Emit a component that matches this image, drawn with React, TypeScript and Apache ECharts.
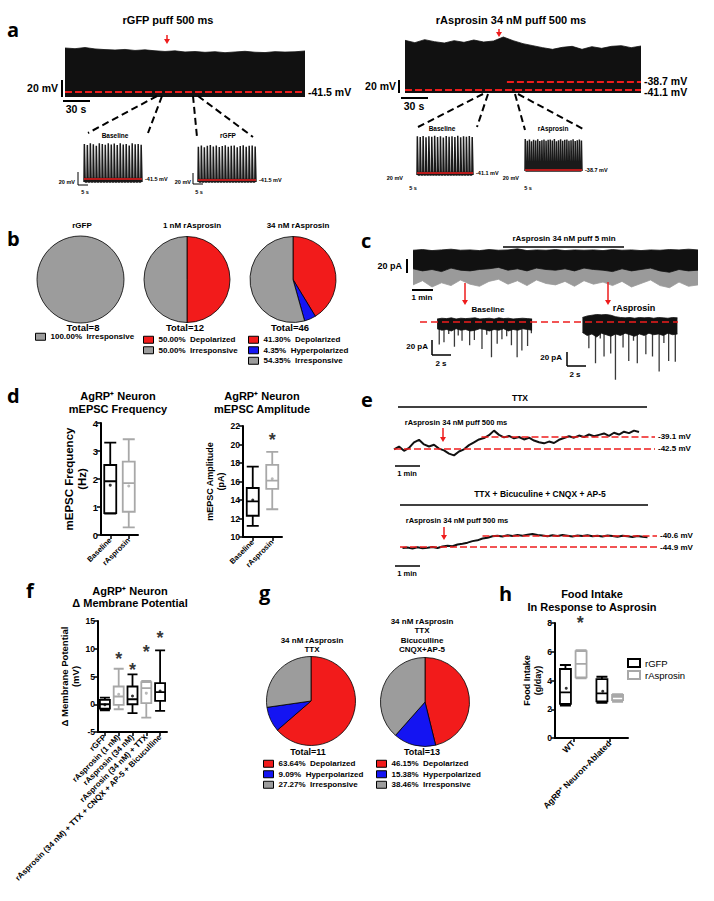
import React, { useEffect, useRef } from "react";
import * as echarts from "echarts";

const FONT = '"Liberation Sans", Arial, Helvetica, sans-serif';
const LETTER_FONT = '"Open Sans", "Liberation Sans", sans-serif';
const RED = "#ee1c1c";
const BOXGRAY = "#a8a8a8";
const PIE_COLORS: Record<string, string> = {
  Depolarized: "#f21b1b",
  Hyperpolarized: "#1414f2",
  Irresponsive: "#9c9c9c",
};

// ---------- panel a : current-clamp traces (upper envelope, mV) ----------
const A_STEP_S = 11;
const aRgfpTop = [10.3, 9.5, 10.8, 9.2, 8.4, 7.9, 8.6, 7.4, 8.1, 7.0, 6.2, 6.9, 5.6, 6.1, 5.2, 5.9, 4.8, 5.6, 6.4, 5.3, 4.9, 6.0, 5.5, 5.8, 6.8];
const aAspTop = [-26.2, -26.9, -26.0, -26.6, -27.0, -26.3, -26.8, -26.1, -26.7, -26.4, -25.2, -26.3, -27.2, -27.8, -28.4, -28.9, -28.3, -28.0, -28.9, -28.1, -28.6, -28.0, -27.8, -28.4, -27.9];
// inset spike peaks (mV)
const aInsetBaseL = [17, 15, 18, 16.5, 14, 18, 17, 15.5, 18, 16, 17.5, 15, 18, 16, 17, 14.5, 18, 16.5, 17, 15.5];
const aInsetRgfp = [14, 16, 13, 15.5, 17, 14.5, 16, 13.5, 15, 16.5, 14, 15.5, 16, 13, 15, 16.5, 14, 15.5, 16, 14.5];
const aInsetBaseR = [20, 19, 20.5, 18.5, 20, 19.5, 21, 19, 20, 18, 20.5, 19.5, 20, 19, 21, 18.5, 20, 19.5, 20.5, 19];
const aInsetAsp = [13, 10, 12, 9, 11.5, 10.5, 12.5, 9.5, 11, 12, 10, 11.5, 12, 10.5, 13, 9, 11, 12.5, 10, 11.5, 12, 10, 11, 12.5, 9.5, 11, 12, 10.5];

// ---------- panel b : pie counts ----------
const bRgfp = [{ name: "Irresponsive", value: 8 }];
const b1nM = [
  { name: "Depolarized", value: 6 },
  { name: "Irresponsive", value: 6 },
];
const b34nM = [
  { name: "Depolarized", value: 19 },
  { name: "Hyperpolarized", value: 2 },
  { name: "Irresponsive", value: 25 },
];

// ---------- panel c : voltage-clamp traces (pA) ----------
const C_STEP_MIN = 0.45;
const cMainSpikes = [-47, -41, -50, -44, -48, -40, -46, -49, -42, -39, -46, -41, -48, -40, -45, -47, -42, -49, -41, -46, -43, -48, -42, -50, -45, -40, -48, -51, -43, -49, -47];
const cMainBand = [-24, -27, -25, -28, -23, -26, -27, -25, -24, -22, -26, -24, -27, -23, -25, -26, -24, -27, -23, -25, -26, -28, -24, -27, -25, -23, -27, -29, -25, -27, -26];
const cMainTop = [2.5, 3.5, 2, 3, 4, 2.5, 3, 2, 3.5, 2.5, 3, 4.5, 2, 3, 2.5, 3.5, 2, 3, 2.5, 3, 2, 3.5, 2.5, 3, 2, 3, 2.5, 3.5, 3, 4, 3];
const C_BAND_STEP_S = 0.5;
const cBaseStart = 1.8;
const cBaseBandTop = [4, 5, 4.5, 5.5, 4, 5, 4.5, 5, 5.5, 4, 4.5, 5, 4, 5.5, 4.5, 5, 4, 4.5, 5, 4.5, 4];
const cBaseBandBottom = [-9, -11, -10, -12, -9, -11, -10, -12, -11, -9, -10, -12, -10, -11, -9, -12, -10, -11, -9, -10, -11];
const cBaseTimes = [2.1, 2.6, 3.1, 3.7, 4.1, 4.5, 5.3, 5.8, 6.6, 7.1, 7.6, 8.2, 8.7, 9.2, 9.7, 10.3, 10.8, 11.4, 11.8];
const cBaseDepths = [-30, -27, -16, -33, -18, -25, -31, -24, -36, -17, -47, -29, -23, -19, -31, -47, -38, -32, -15];
const cAspStart = 17.1;
const cAspBandTop = [6, 8, 9, 10, 9.5, 10, 9, 7, 6, 5.5, 6, 5, 6, 5.5, 6, 5, 6, 5.5, 5, 6, 5.5];
const cAspBandBottom = [-14, -18, -16, -20, -15, -17, -19, -16, -18, -15, -17, -19, -16, -18, -15, -17, -16, -18, -15, -17, -16];
const cAspTimes = [17.7, 18.4, 18.9, 19.3, 20.0, 20.5, 21.3, 21.9, 22.4, 22.8, 23.7, 24.4, 25.1, 25.6, 26.1, 26.8];
const cAspDepths = [-35, -55, -22, -46, -42, -77, -34, -52, -25, -55, -43, -46, -66, -28, -52, -53];

// ---------- panel d : mEPSC box plots [min, Q1, median, Q3, max] ----------
const dCats = ["Baseline", "rAsprosin"];
const dFreqBox = [
  [0.76, 0.78, 1.92, 2.5, 3.3],
  [0.27, 0.83, 1.85, 2.62, 3.42],
];
const dFreqMean = [1.78, 1.75];
const dAmpBox = [
  [11.2, 12.3, 13.85, 15.3, 17.6],
  [13.0, 15.2, 16.1, 17.8, 19.2],
];
const dAmpMean = [14.0, 16.3];
const dAmpStar = [null, 20.5];

// ---------- panel e : TTX traces (mV), sampled every 0.2 min ----------
const E_STEP_MIN = 0.2;
const eTtx = [-42.6, -41.8, -43.0, -42.2, -40.6, -39.9, -41.2, -41.8, -41.3, -42.4, -42.9, -43.8, -44.3, -43.2, -42.6, -41.4, -40.6, -39.8, -39.4, -38.6, -37.3, -38.5, -39.2, -38.8, -39.5, -39.1, -39.8, -39.3, -40.1, -40.6, -40.9, -40.4, -40.8, -39.9, -39.4, -38.9, -39.3, -38.7, -39.1, -38.4, -38.9, -38.5, -38.1, -38.8, -37.9, -38.4, -37.6, -38.0, -37.3, -37.7];
const eAll = [-45.3, -45.1, -45.5, -45.0, -45.4, -45.2, -44.9, -45.3, -44.7, -44.4, -44.6, -43.9, -43.6, -43.2, -42.6, -42.3, -41.6, -41.3, -40.7, -40.5, -40.8, -40.3, -40.6, -40.2, -40.5, -40.1, -39.8, -40.2, -40.4, -40.7, -40.3, -40.6, -40.2, -40.5, -40.8, -40.4, -40.6, -40.3, -40.7, -40.5, -40.8, -40.4, -40.6, -40.9, -40.5, -40.7, -41.0, -40.6, -40.9, -41.1];

// ---------- panel f : delta membrane potential ----------
const fCats = ["rGFP", "rAsprosin (1 nM)", "rAsprosin (34 nM)", "rAsprosin (34 nM) + TTX", "rAsprosin (34 nM) + TTX + CNQX + AP-5 + Bicuculline"];
const fBox = [
  [-1.1, -0.8, 0.0, 0.8, 1.2],
  [-0.9, -0.1, 1.4, 3.2, 6.4],
  [-1.6, 0.0, 0.9, 3.2, 5.4],
  [-2.4, 0.2, 2.9, 4.0, 4.2],
  [-1.2, 0.6, 2.2, 3.8, 9.7],
];
const fMean = [-0.1, 1.8, 1.5, 2.0, 2.4];
const fStar = [null, 8.1, 6.2, 9.4, 11.9];
const fGray = [false, true, false, true, false];

// ---------- panel g : pie counts ----------
const gTtx = [
  { name: "Depolarized", value: 7 },
  { name: "Hyperpolarized", value: 1 },
  { name: "Irresponsive", value: 3 },
];
const gAll = [
  { name: "Depolarized", value: 6 },
  { name: "Hyperpolarized", value: 2 },
  { name: "Irresponsive", value: 5 },
];

// ---------- panel h : food intake ----------
const hCats = ["WT", "AgRP\u207A Neuron-Ablated"];
const hGfpBox = [
  [2.25, 2.37, 3.18, 4.8, 5.08],
  [2.45, 2.55, 3.1, 4.1, 4.26],
];
const hAspBox = [
  [4.15, 4.22, 5.15, 6.05, 6.12],
  [2.52, 2.64, 2.87, 3.0, 3.05],
];
const hGfpMean = [3.46, 3.25];
const hStar = [8.0, null];

// ======================================================================
const txt = (x: number, y: number, text: string, size: number, o: any = {}) => ({
  type: "text",
  x,
  y,
  silent: true,
  z: 50,
  style: {
    text,
    fill: o.fill || "#000",
    fontSize: size,
    fontWeight: o.weight || "bold",
    fontFamily: o.family || FONT,
    align: o.align || "center",
    textAlign: o.align || "center",
    verticalAlign: "middle",
    textVerticalAlign: "middle",
  },
});
const ln = (x1: number, y1: number, x2: number, y2: number, w = 2, color = "#000", dash?: number[]) => ({
  type: "line",
  silent: true,
  z: 50,
  shape: { x1, y1, x2, y2 },
  style: { stroke: color, lineWidth: w, lineDash: dash },
});
const arrow = (x: number, y1: number, y2: number) => [
  ln(x, y1, x, y2 - 4, 1.5, RED),
  {
    type: "polygon",
    silent: true,
    z: 50,
    shape: { points: [[x - 3, y2 - 5], [x + 3, y2 - 5], [x, y2]] },
    style: { fill: RED },
  },
];

function buildOption() {
  const grid: any[] = [];
  const xAxis: any[] = [];
  const yAxis: any[] = [];
  const series: any[] = [];
  const legend: any[] = [];

  const hiddenGrid = (left: number, top: number, width: number, height: number, xr: number[], yr: number[]) => {
    const gi = grid.length;
    grid.push({ left, top, width, height, containLabel: false });
    xAxis.push({ type: "value", gridIndex: gi, min: xr[0], max: xr[1], show: false });
    yAxis.push({ type: "value", gridIndex: gi, min: yr[0], max: yr[1], show: false });
    return gi;
  };

  const redDash = (
    lines: { y: number; x0: number; x1: number; label: string; dy?: number }[],
    size: number,
    width = 2,
    dash: any = [7, 3]
  ) => ({
    silent: true,
    symbol: ["none", "none"],
    lineStyle: { color: RED, type: dash, width },
    label: { show: true, position: "end", formatter: "{b}", color: "#000", fontSize: size, fontWeight: "bold", fontFamily: FONT, distance: 3 },
    emphasis: { disabled: true },
    data: lines.map((l) => [
      { coord: [l.x0, l.y], name: l.label, label: { offset: [0, l.dy || 0] } },
      { coord: [l.x1, l.y] },
    ]),
  });

  const areaTrace = (gi: number, vals: number[], step: number, color: string, origin: any, x0 = 0, extra: any = {}) => ({
    type: "line",
    xAxisIndex: gi,
    yAxisIndex: gi,
    data: vals.map((v, i) => [x0 + i * step, v]),
    symbol: "none",
    clip: false,
    silent: true,
    lineStyle: { color, width: 0.8 },
    areaStyle: { color, opacity: 1, origin },
    ...extra,
  });

  // ---- panel a main traces
  const gA1 = hiddenGrid(65, 40, 240, 57, [0, (aRgfpTop.length - 1) * A_STEP_S], [-47.4, 19.7]);
  series.push(
    areaTrace(gA1, aRgfpTop, A_STEP_S, "#111", "start", 0, {
      markLine: redDash([{ y: -41.5, x0: 0, x1: (aRgfpTop.length - 1) * A_STEP_S, label: "-41.5 mV" }], 10.5),
    })
  );
  const aMax = (aAspTop.length - 1) * A_STEP_S;
  const gA2 = hiddenGrid(405, 35, 236, 58, [0, aMax], [-42.0, -24.6]);
  series.push(
    areaTrace(gA2, aAspTop, A_STEP_S, "#111", "start", 0, {
      markLine: redDash(
        [
          { y: -38.7, x0: 114, x1: aMax, label: "-38.7 mV", dy: -1.5 },
          { y: -41.1, x0: 0, x1: aMax, label: "-41.1 mV", dy: 2 },
        ],
        10.5
      ),
    })
  );
  // ---- panel a insets : spike trains drawn from the peak lists
  const inset = (left: number, top: number, width: number, height: number, peaks: number[], yr: number[], base: number, label: string) => {
    const xmax = peaks.length - 1 + 0.4;
    const gi = hiddenGrid(left, top, width, height, [0, xmax], yr);
    const trough = yr[0];
    const pts: number[][] = [];
    peaks.forEach((p, i) => {
      pts.push([i, trough], [i + 0.12, p], [i + 0.4, trough]);
    });
    series.push({
      type: "line",
      xAxisIndex: gi,
      yAxisIndex: gi,
      data: [[0, base + 2], [xmax, base + 2]],
      symbol: "none",
      silent: true,
      lineStyle: { width: 0 },
      areaStyle: { color: "#111", opacity: 1, origin: "start" },
    });
    series.push({
      type: "line",
      xAxisIndex: gi,
      yAxisIndex: gi,
      data: pts,
      symbol: "none",
      silent: true,
      clip: false,
      lineStyle: { color: "#1a1a1a", width: 1.5 },
      markLine: redDash([{ y: base, x0: 0, x1: xmax, label }], 5.5, 1.5, "solid"),
    });
  };
  inset(84, 142, 58, 40, aInsetBaseL, [-46.5, 20.2], -41.5, "-41.5 mV");
  inset(198, 144, 58, 38, aInsetRgfp, [-44.8, 18.5], -41.5, "-41.5 mV");
  inset(417, 136, 56, 39, aInsetBaseR, [-44.4, 20.6], -41.1, "-41.1 mV");
  inset(525, 137, 57, 34, aInsetAsp, [-40.4, 16.3], -38.7, "-38.7 mV");

  // ---- panel c main
  const cMax = (cMainTop.length - 1) * C_STEP_MIN;
  const gC1 = hiddenGrid(413, 248, 285, 42, [0, cMax], [-54.3, 5.7]);
  series.push(areaTrace(gC1, cMainSpikes, C_STEP_MIN, "#9a9a9a", 0));
  series.push(areaTrace(gC1, cMainBand, C_STEP_MIN, "#111", 0));
  series.push(areaTrace(gC1, cMainTop, C_STEP_MIN, "#111", 0));
  // ---- panel c insets (one shared coordinate system)
  const gC2 = hiddenGrid(420, 312, 258, 70, [0, 27.16], [-80, 13.3]);
  const spikeBars = (times: number[], depths: number[]) => ({
    type: "bar",
    xAxisIndex: gC2,
    yAxisIndex: gC2,
    barWidth: 1.3,
    silent: true,
    itemStyle: { color: "#3a3a3a" },
    data: times.map((t, i) => [t, depths[i]]),
  });
  series.push(spikeBars(cBaseTimes, cBaseDepths));
  series.push(spikeBars(cAspTimes, cAspDepths));
  series.push(areaTrace(gC2, cBaseBandBottom, C_BAND_STEP_S, "#111", 0, cBaseStart));
  series.push(areaTrace(gC2, cBaseBandTop, C_BAND_STEP_S, "#111", 0, cBaseStart));
  series.push(areaTrace(gC2, cAspBandBottom, C_BAND_STEP_S, "#111", 0, cAspStart));
  series.push(
    areaTrace(gC2, cAspBandTop, C_BAND_STEP_S, "#111", 0, cAspStart, {
      markLine: { ...redDash([{ y: 0, x0: 0, x1: 27.16, label: "" }], 6, 1.5, [7, 4]), label: { show: false } },
    })
  );

  // ---- panel e
  const eTtxMax = 10.44;
  const gE1 = hiddenGrid(394, 424, 268, 34, [0, 10.72], [-45.05, -35.42]);
  series.push({
    type: "line",
    xAxisIndex: gE1,
    yAxisIndex: gE1,
    data: eTtx.map((v, i) => [i * E_STEP_MIN, v]),
    symbol: "none",
    clip: false,
    silent: true,
    lineStyle: { color: "#111", width: 2 },
    markLine: redDash(
      [
        { y: -39.1, x0: 3.5, x1: eTtxMax, label: "-39.1 mV" },
        { y: -42.5, x0: 0, x1: eTtxMax, label: "-42.5 mV" },
      ],
      8,
      1.5
    ),
  });
  const gE2 = hiddenGrid(400, 530, 262, 22, [0, 10.48], [-46.85, -38.26]);
  series.push({
    type: "line",
    xAxisIndex: gE2,
    yAxisIndex: gE2,
    data: eAll.map((v, i) => [0.1 + i * E_STEP_MIN, v]),
    symbol: "none",
    clip: false,
    silent: true,
    lineStyle: { color: "#111", width: 2 },
    markLine: redDash(
      [
        { y: -40.6, x0: 3.3, x1: 10.28, label: "-40.6 mV" },
        { y: -44.9, x0: 0, x1: 10.28, label: "-44.9 mV" },
      ],
      8,
      1.5
    ),
  });

  // ---- box plot axes helper
  const boxGrid = (
    left: number, top: number, width: number, height: number, cats: string[],
    yr: number[], interval: number, name: string, nameGap: number, nameSize: number, labelSize: number, xLabelSize: number
  ) => {
    const gi = grid.length;
    grid.push({ left, top, width, height, containLabel: false });
    xAxis.push({
      type: "category",
      gridIndex: gi,
      data: cats,
      boundaryGap: true,
      axisLine: { show: true, onZero: false, lineStyle: { color: "#000", width: 2 } },
      axisTick: { show: true, alignWithLabel: true, length: 4, lineStyle: { color: "#000", width: 1.5 } },
      axisLabel: { rotate: 45, interval: 0, margin: 4, color: "#000", fontSize: xLabelSize, fontWeight: "bold", fontFamily: FONT },
      splitLine: { show: false },
    });
    yAxis.push({
      type: "value",
      gridIndex: gi,
      min: yr[0],
      max: yr[1],
      interval,
      axisLine: { show: true, lineStyle: { color: "#000", width: 2 } },
      axisTick: { show: true, length: 4, lineStyle: { color: "#000", width: 1.5 } },
      axisLabel: { color: "#000", fontSize: labelSize, fontWeight: "bold", fontFamily: FONT, margin: 3 },
      splitLine: { show: false },
      name,
      nameLocation: "middle",
      nameGap,
      nameTextStyle: { color: "#000", fontSize: nameSize, fontWeight: "bold", fontFamily: FONT, lineHeight: nameSize + 2 },
    });
    return gi;
  };
  const boxSeries = (gi: number, name: string, data: number[][], gray: boolean[], w: number) => ({
    type: "boxplot",
    name,
    xAxisIndex: gi,
    yAxisIndex: gi,
    boxWidth: [w, w],
    silent: true,
    itemStyle: { color: "#fff", borderColor: "#000", borderWidth: 1.8 },
    data: data.map((v, i) => ({ value: v, itemStyle: { color: "#fff", borderColor: gray[i] ? BOXGRAY : "#000", borderWidth: 1.8 } })),
  });
  const meanSeries = (gi: number, vals: (number | null)[], gray: boolean[], offset = 0) => ({
    type: "scatter",
    xAxisIndex: gi,
    yAxisIndex: gi,
    symbolSize: 3,
    symbolOffset: [offset, 0],
    silent: true,
    z: 5,
    data: vals.map((v, i) => ({ value: [i, v], itemStyle: { color: gray[i] ? BOXGRAY : "#000" } })),
  });
  const starSeries = (gi: number, vals: (number | null)[], dx = 0) => ({
    type: "scatter",
    xAxisIndex: gi,
    yAxisIndex: gi,
    symbolSize: 2,
    silent: true,
    z: 6,
    itemStyle: { color: "rgba(0,0,0,0)" },
    label: { show: true, formatter: "*", position: "inside", offset: [dx, 0], color: "#000", fontSize: 18, fontWeight: "bold", fontFamily: FONT },
    data: vals.map((v, i) => (v === null ? [i, "-"] : [i, v])),
  });

  // ---- panel d
  const gD1 = boxGrid(101, 423, 37, 112, dCats, [0, 4], 1, "mEPSC Frequency\n(Hz)", 9, 11.5, 9.5, 7.5);
  series.push(boxSeries(gD1, "freq", dFreqBox, [false, true], 12));
  series.push(meanSeries(gD1, dFreqMean, [false, true]));
  const gD2 = boxGrid(243, 426, 39, 111, dCats, [10, 22], 2, "mEPSC Amplitude\n(pA)", 14, 9, 8.5, 7.5);
  series.push(boxSeries(gD2, "amp", dAmpBox, [false, true], 12));
  series.push(meanSeries(gD2, dAmpMean, [false, true]));
  series.push(starSeries(gD2, dAmpStar));

  // ---- panel f
  const gF = boxGrid(98, 621, 69, 111, fCats, [-5, 15], 5, "\u0394 Membrane Potential\n(mV)", 12, 9.5, 8.5, 8);
  series.push(boxSeries(gF, "dmp", fBox, fGray, 10));
  series.push(meanSeries(gF, fMean, fGray));
  series.push(starSeries(gF, fStar));

  // ---- panel h
  const gH = boxGrid(555, 623, 73, 115, hCats, [0, 8], 2, "Food Intake\n(g/day)", 10, 9, 8.5, 8.5);
  series.push(boxSeries(gH, "rGFP", hGfpBox, [false, false], 11));
  series.push(boxSeries(gH, "rAsprosin", hAspBox, [true, true], 11));
  series.push(meanSeries(gH, hGfpMean, [false, false], -7));
  series.push(starSeries(gH, hStar, 7));
  legend.push({
    left: 627,
    top: 658,
    orient: "vertical",
    padding: 0,
    itemGap: 2,
    itemWidth: 12,
    itemHeight: 8,
    selectedMode: false,
    icon: "rect",
    textStyle: { color: "#000", fontSize: 9.5, fontFamily: FONT },
    data: [
      { name: "rGFP", itemStyle: { color: "#fff", borderColor: "#000", borderWidth: 2 } },
      { name: "rAsprosin", itemStyle: { color: "#fff", borderColor: BOXGRAY, borderWidth: 2 } },
    ],
  });

  // ---- pies (b, g)
  const pie = (data: { name: string; value: number }[], cx: number, cy: number, r: number) => ({
    type: "pie",
    center: [cx, cy],
    radius: r,
    startAngle: 90,
    clockwise: true,
    silent: true,
    label: { show: false },
    labelLine: { show: false },
    itemStyle: { borderColor: "#000", borderWidth: 0.8 },
    data: data.map((d) => ({ name: d.name, value: d.value, itemStyle: { color: PIE_COLORS[d.name] } })),
  });
  const total = (data: { value: number }[]) => data.reduce((s, d) => s + d.value, 0);
  const pieLegend = (data: { name: string; value: number }[], left: number, top: number) => {
    const t = total(data);
    return {
      left,
      top,
      orient: "vertical",
      padding: 0,
      itemGap: 1,
      itemWidth: 10,
      itemHeight: 7,
      icon: "rect",
      selectedMode: false,
      itemStyle: { borderColor: "#000", borderWidth: 1 },
      data: data.map((d) => d.name),
      formatter: (name: string) => {
        const d = data.find((x) => x.name === name)!;
        return `${((100 * d.value) / t).toFixed(2)}%  ${name}`;
      },
      textStyle: { color: "#000", fontSize: 8, fontWeight: "bold", fontFamily: FONT, lineHeight: 9.5 },
    };
  };
  series.push(pie(bRgfp, 80.5, 279.5, 43.5));
  series.push(pie(b1nM, 187, 279.5, 43));
  series.push(pie(b34nM, 293, 279.5, 43));
  series.push(pie(gTtx, 311, 701, 44.5));
  series.push(pie(gAll, 425, 702, 44.5));
  legend.push(pieLegend(bRgfp, 35, 332));
  legend.push(pieLegend(b1nM, 143, 335));
  legend.push(pieLegend(b34nM, 248, 335));
  legend.push(pieLegend(gTtx, 263, 759));
  legend.push(pieLegend(gAll, 376, 759));

  // ---- graphic annotations
  const L = (x: number, y: number, s: string) => txt(x, y, s, 20, { family: LETTER_FONT, align: "left" });
  const g: any[] = [
    L(7, 29, "a"), L(7, 238, "b"), L(361, 240, "c"), L(7, 395, "d"), L(361, 399, "e"), L(26, 590, "f"), L(259, 592, "g"), L(499, 593, "h"),
    // panel a
    txt(168, 20, "rGFP puff 500 ms", 11),
    txt(511, 20, "rAsprosin 34 nM puff 500 ms", 11),
    ...arrow(167, 35, 44),
    ...arrow(499, 29, 37),
    txt(58, 88, "20 mV", 10.5, { align: "right" }),
    ln(62, 80, 62, 97),
    ln(63, 101, 90, 101),
    txt(76, 109, "30 s", 10.5),
    txt(396, 86, "20 mV", 10.5, { align: "right" }),
    ln(399, 80, 399, 93),
    ln(401, 98, 428, 98),
    txt(414, 106, "30 s", 10.5),
    ln(157, 96, 88, 133, 2, "#000", [7, 4]),
    ln(162, 96, 148, 133, 2, "#000", [7, 4]),
    ln(193, 96, 197, 137, 2, "#000", [7, 4]),
    ln(198, 96, 253, 137, 2, "#000", [7, 4]),
    ln(483, 94, 418, 127, 2, "#000", [7, 4]),
    ln(488, 94, 477, 127, 2, "#000", [7, 4]),
    ln(515, 94, 525, 130, 2, "#000", [7, 4]),
    ln(518, 94, 585, 130, 2, "#000", [7, 4]),
    txt(115, 135, "Baseline", 6.5),
    txt(228, 135, "rGFP", 6.5),
    txt(442, 128, "Baseline", 6.5),
    txt(553, 128, "rAsprosin", 6.5),
    txt(75, 182, "20 mV", 5.5, { align: "right" }),
    ln(78, 172, 78, 185, 1),
    ln(78, 185, 88, 185, 1),
    txt(85, 192, "5 s", 5.5),
    txt(191, 182, "20 mV", 5.5, { align: "right" }),
    ln(193, 173, 193, 184, 1),
    ln(193, 184, 203, 184, 1),
    txt(199, 192, "5 s", 5.5),
    txt(403, 178, "20 mV", 5.5, { align: "right" }),
    txt(413, 188, "5 s", 5.5),
    txt(519, 178, "20 mV", 5.5, { align: "right" }),
    txt(528, 188, "5 s", 5.5),
    // panel b
    txt(82, 225, "rGFP", 8),
    txt(192, 225, "1 nM rAsprosin", 8),
    txt(298, 225, "34 nM rAsprosin", 8),
    txt(83, 327, `Total=${total(bRgfp)}`, 9.5),
    txt(185, 327, `Total=${total(b1nM)}`, 9.5),
    txt(290, 327, `Total=${total(b34nM)}`, 9.5),
    // panel c
    txt(564, 238, "rAsprosin 34 nM puff 5 min", 8),
    ln(503, 247, 624, 247, 1.5),
    txt(402, 266, "20 pA", 9, { align: "right" }),
    ln(407, 259, 407, 273, 2),
    ln(412, 290, 433, 290, 2),
    txt(422, 297, "1 min", 8),
    ...arrow(465, 283, 305),
    ...arrow(608, 282, 305),
    txt(488, 309, "Baseline", 8),
    txt(634, 308, "rAsprosin", 9),
    txt(428, 346, "20 pA", 8, { align: "right" }),
    ln(432, 340, 432, 355, 1.5),
    ln(432, 355, 451, 355, 1.5),
    txt(441, 363, "2 s", 8),
    txt(562, 357, "20 pA", 8, { align: "right" }),
    ln(567, 352, 567, 366, 1.5),
    ln(567, 366, 586, 366, 1.5),
    txt(575, 374, "2 s", 8),
    // panel d
    txt(118, 396, "AgRP\u207A Neuron", 11),
    txt(118, 409, "mEPSC Frequency", 11),
    txt(262, 396, "AgRP\u207A Neuron", 11),
    txt(262, 409, "mEPSC Amplitude", 11),
    // panel e
    txt(520, 398, "TTX", 8.5),
    ln(398, 407, 647, 407, 1.5),
    txt(456, 422, "rAsprosin 34 nM puff 500 ms", 7.5),
    ...arrow(443, 428, 442),
    ln(395, 466, 420, 466, 1.5),
    txt(407, 473, "1 min", 7.5),
    txt(540, 494, "TTX + Bicuculine + CNQX + AP-5", 8.5),
    ln(400, 505, 648, 505, 1.5),
    txt(457, 520, "rAsprosin 34 nM puff 500 ms", 7.5),
    ...arrow(444, 527, 540),
    ln(395, 566, 420, 566, 1.5),
    txt(407, 573, "1 min", 7.5),
    // panel f
    txt(130, 591, "AgRP\u207A Neuron", 11),
    txt(130, 603, "\u0394 Membrane Potential", 11),
    // panel g
    txt(312, 640, "34 nM rAsprosin", 8),
    txt(312, 649, "TTX", 8),
    txt(422, 621, "34 nM rAsprosin", 8),
    txt(422, 630, "TTX", 8),
    txt(422, 640, "Bicuculline", 8),
    txt(422, 649, "CNQX+AP-5", 8),
    txt(308, 752, `Total=${total(gTtx)}`, 9),
    txt(422, 752, `Total=${total(gAll)}`, 9),
    // panel h
    txt(592, 594, "Food Intake", 11),
    txt(592, 607, "In Response to Asprosin", 11),
  ];

  return {
    animation: false,
    backgroundColor: "#fff",
    textStyle: { fontFamily: FONT },
    grid,
    xAxis,
    yAxis,
    legend,
    series,
    graphic: g,
  };
}

export default function App() {
  const ref = useRef<HTMLDivElement>(null);
  useEffect(() => {
    const chart = echarts.init(ref.current!, null, { renderer: "svg", width: 714, height: 901 });
    chart.setOption(buildOption() as any);
    return () => chart.dispose();
  }, []);
  return (
    <div
      ref={ref}
      style={{ position: "absolute", left: 0, top: 0, width: 714, height: 901, background: "#fff" }}
    />
  );
}
